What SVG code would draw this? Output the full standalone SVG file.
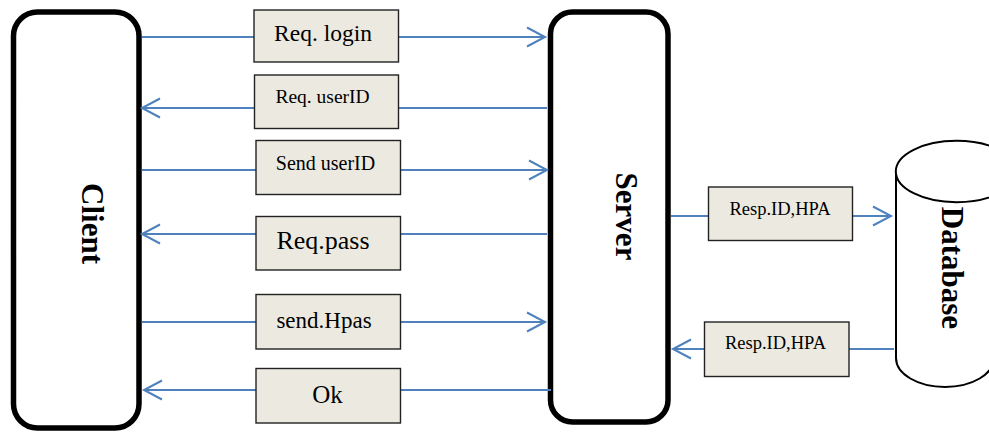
<svg xmlns="http://www.w3.org/2000/svg" width="989" height="432" viewBox="0 0 989 432">
  <defs>
    <marker id="open-arrow" markerUnits="userSpaceOnUse" markerWidth="24" markerHeight="24" viewBox="-20 -12 24 24" refX="0" refY="0" orient="auto">
      <path d="M -18 -9.5 L 0 0 L -18 9.5" fill="none" stroke="#4F81BD" stroke-width="2"/>
    </marker>
    <style>
      .lane { fill: #ffffff; stroke: #000000; stroke-width: 5.5; }
      .lane-label { font-family: "Liberation Serif", "Times New Roman", serif; font-weight: bold; font-size: 31px; fill: #000000; text-anchor: middle; }
      .msg { fill: #ECEAE0; stroke: #222222; stroke-width: 1.4; }
      .msg-text { font-family: "Liberation Serif", "Times New Roman", serif; fill: #000000; text-anchor: middle; }
      .flow { fill: none; stroke: #4F81BD; stroke-width: 2; }
      .flow.arrow { marker-end: url(#open-arrow); }
      .db { fill: #ffffff; stroke: #000000; stroke-width: 2; }
    </style>
  </defs>

  <!-- Lifelines -->
  <g id="client">
    <rect class="lane" x="13.5" y="12" width="125.5" height="416" rx="24" ry="24"/>
    <text class="lane-label" transform="translate(82,223.5) rotate(90)" x="0" y="0">Client</text>
  </g>
  <g id="server">
    <rect class="lane" x="550.5" y="12" width="117.5" height="410" rx="22" ry="22"/>
    <text class="lane-label" transform="translate(616,216.5) rotate(90)" x="0" y="0">Server</text>
  </g>
  <g id="database">
    <path class="db" d="M 896 171.5 L 896 358 A 49 29 0 0 0 994 358 L 1018 358 L 1018 171.5"/>
    <ellipse class="db" cx="956.5" cy="171.5" rx="60.7" ry="30.7"/>
    <text class="lane-label" transform="translate(942,268) rotate(90)" x="0" y="0">Database</text>
  </g>

  <!-- Message flows -->
  <g id="connectors">
    <line class="flow arrow" x1="142" y1="37" x2="545" y2="37"/>
    <line class="flow arrow" x1="547" y1="108" x2="142" y2="108"/>
    <line class="flow arrow" x1="142" y1="170" x2="547" y2="170"/>
    <line class="flow arrow" x1="547" y1="234" x2="142" y2="234"/>
    <line class="flow arrow" x1="142" y1="322" x2="545" y2="322"/>
    <line class="flow arrow" x1="551" y1="390" x2="144" y2="390"/>
    <line class="flow arrow" x1="671" y1="216" x2="891" y2="216"/>
    <line class="flow arrow" x1="894" y1="349" x2="673" y2="349"/>
  </g>

  <!-- Message labels -->
  <g id="msg-req-login">
    <rect class="msg" x="254" y="10" width="144.5" height="52"/>
    <text class="msg-text" x="323" y="41" font-size="23.5">Req. login</text>
  </g>
  <g id="msg-req-userid">
    <rect class="msg" x="254.5" y="75" width="144" height="53.5"/>
    <text class="msg-text" x="322.5" y="103" font-size="19.5">Req. userID</text>
  </g>
  <g id="msg-send-userid">
    <rect class="msg" x="256" y="140.5" width="144.5" height="54"/>
    <text class="msg-text" x="325.5" y="170" font-size="20">Send userID</text>
  </g>
  <g id="msg-req-pass">
    <rect class="msg" x="256" y="216.5" width="144.5" height="53.5"/>
    <text class="msg-text" x="323" y="249" font-size="26">Req.pass</text>
  </g>
  <g id="msg-send-hpas">
    <rect class="msg" x="256" y="294.5" width="144.5" height="54.5"/>
    <text class="msg-text" x="324" y="328" font-size="23">send.Hpas</text>
  </g>
  <g id="msg-ok">
    <rect class="msg" x="256" y="368.5" width="144.5" height="54.5"/>
    <text class="msg-text" x="327.5" y="402.5" font-size="25">Ok</text>
  </g>
  <g id="msg-resp-to-db">
    <rect class="msg" x="708.5" y="187" width="144" height="53.5"/>
    <text class="msg-text" x="780" y="215" font-size="18.5">Resp.ID,HPA</text>
  </g>
  <g id="msg-resp-from-db">
    <rect class="msg" x="704.5" y="322" width="144.5" height="54.5"/>
    <text class="msg-text" x="775.5" y="349" font-size="18.5">Resp.ID,HPA</text>
  </g>
</svg>
